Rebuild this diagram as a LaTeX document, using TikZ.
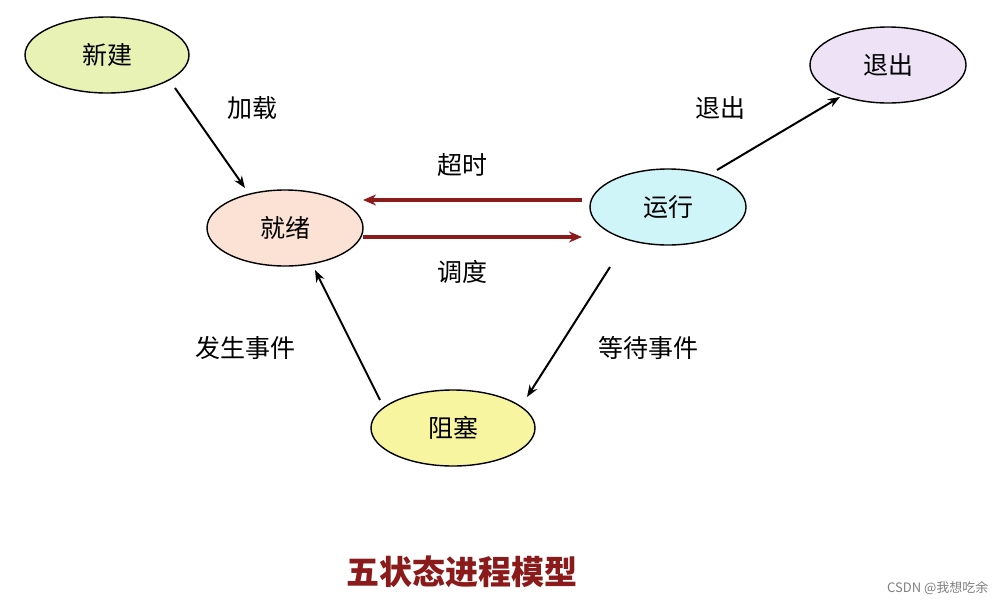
\documentclass[tikz,border=0pt]{standalone}
\usepackage{fontspec}
\setmainfont{Noto Sans CJK SC}
\usetikzlibrary{arrows.meta,shapes.geometric}
\definecolor{darkred}{HTML}{8B1A1A}
\begin{document}
\begin{tikzpicture}[x=1pt,y=-1pt,
  st/.style={draw=black,line width=1.4pt,ellipse,minimum width=156pt,minimum height=76pt,font=\fontsize{25}{27}\selectfont,inner sep=0pt},
  lbl/.style={font=\fontsize{25}{27}\selectfont},
  arr/.style={-{Stealth[length=12pt,width=9pt]},line width=2pt},
  rarr/.style={-{Stealth[length=13pt,width=11pt]},line width=3.2pt,draw=darkred}]
\useasboundingbox (0,0) rectangle (996,606);
\node[st,fill={rgb,255:red,232;green,242;blue,180},minimum width=164pt] (new) at (107,55) {新建};
\node[st,fill={rgb,255:red,238;green,226;blue,246}] (exit) at (888,65) {退出};
\node[st,fill={rgb,255:red,251;green,226;blue,212}] (ready) at (285,228) {就绪};
\node[st,fill={rgb,255:red,208;green,245;blue,248}] (run) at (668,207) {运行};
\node[st,fill={rgb,255:red,248;green,245;blue,160},minimum width=164pt] (block) at (453,428) {阻塞};
\coordinate (a1) at (175,88); \coordinate (a2) at (245,188);
\draw[arr] (a1) -- (a2);
\node[lbl] (l1) at (252,108) {加载};
\coordinate (b1) at (717,170); \coordinate (b2) at (840,97);
\draw[arr] (b1) -- (b2);
\node[lbl] (l2) at (720,108) {退出};
\coordinate (c1) at (582,200); \coordinate (c2) at (363,200);
\draw[rarr] (c1) -- (c2);
\node[lbl] (l3) at (462,165) {超时};
\coordinate (d1) at (363,237); \coordinate (d2) at (582,237);
\draw[rarr] (d1) -- (d2);
\node[lbl] (l4) at (462,272) {调度};
\coordinate (e1) at (610,267); \coordinate (e2) at (527,397);
\draw[arr] (e1) -- (e2);
\node[lbl] (l5) at (648,348) {等待事件};
\coordinate (f1) at (380,400); \coordinate (f2) at (315,270);
\draw[arr] (f1) -- (f2);
\node[lbl] (l6) at (245,348) {发生事件};
\node[font=\fontsize{33}{35}\selectfont\bfseries,text=darkred] (title) at (462,572) {五状态进程模型};
\node[font=\fontsize{13}{15}\selectfont,text=gray,anchor=east] (wm) at (992,588) {CSDN @我想吃余};
\end{tikzpicture}
\end{document}
